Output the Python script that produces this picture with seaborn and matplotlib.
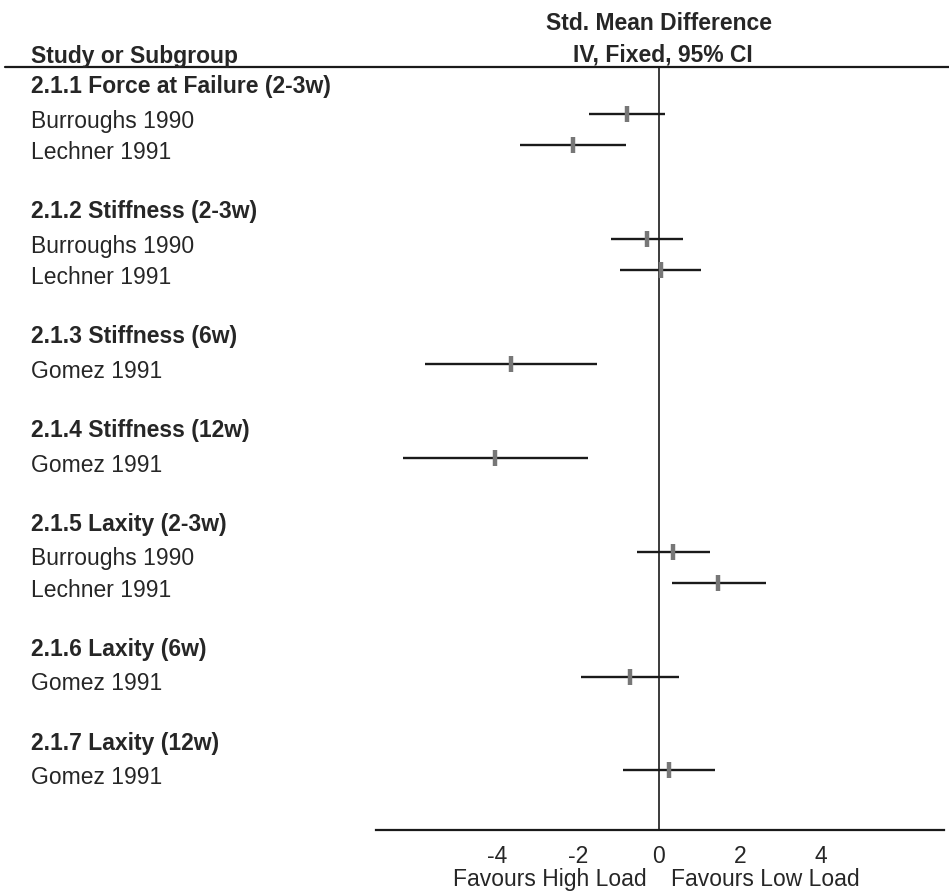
# forest plot: std. mean difference, high vs low load
import pandas as pd
import matplotlib
matplotlib.use("Agg")
import matplotlib.pyplot as plt
import matplotlib.transforms as mtransforms
from matplotlib.lines import Line2D
import seaborn as sns

# data
subgroups = ["2.1.1 Force at Failure (2-3w)", "2.1.2 Stiffness (2-3w)", "2.1.3 Stiffness (6w)",
             "2.1.4 Stiffness (12w)", "2.1.5 Laxity (2-3w)", "2.1.6 Laxity (6w)", "2.1.7 Laxity (12w)"]
subgroup_first_row = [1, 5, 9, 12, 15, 19, 22]

studies = ["Burroughs 1990", "Lechner 1991", "Burroughs 1990", "Lechner 1991", "Gomez 1991",
           "Gomez 1991", "Burroughs 1990", "Lechner 1991", "Gomez 1991", "Gomez 1991"]
study_rows = [1, 2, 5, 6, 9, 12, 15, 16, 19, 22]
smd = [-0.79, -2.12, -0.30, 0.05, -3.65, -4.05, 0.35, 1.46, -0.72, 0.25]
ci_low = [-1.73, -3.43, -1.19, -0.96, -5.78, -6.32, -0.54, 0.32, -1.93, -0.89]
ci_high = [0.15, -0.81, 0.59, 1.04, -1.52, -1.75, 1.26, 2.64, 0.49, 1.38]
x_ticks = [-4, -2, 0, 2, 4]

df = pd.DataFrame({"study": studies, "row": study_rows, "smd": smd,
                   "lo": ci_low, "hi": ci_high})

sns.set_style("white")
plt.rcParams["font.family"] = ["Liberation Sans", "DejaVu Sans"]
fs = 16.5
txt = "#262626"

fig = plt.figure(figsize=(9.49, 8.95), dpi=100)
ax = fig.add_axes([376 / 949, 1 - 831 / 895, 568 / 949, (831 - 68) / 895])

# confidence intervals and point estimates
ax.hlines(df["row"], df["lo"], df["hi"], color="#1a1a1a", lw=1.7, zorder=2)
sns.scatterplot(data=df, x="smd", y="row", marker="|", s=130, linewidth=3.2,
                color="#777777", ax=ax, zorder=3, legend=False)
ax.axvline(0, color="#1a1a1a", lw=1.2, zorder=1)

ax.set_xlim(-6.99, 7.04)
ax.set_ylim(23.91, -0.504)
ax.set_xticks(x_ticks)
ax.set_xticklabels([str(t) for t in x_ticks], fontsize=fs, color=txt)
ax.tick_params(axis="x", direction="inout", length=12, width=1.2, pad=4, color="#1a1a1a")
ax.set_yticks([])
ax.set_xlabel("")
ax.set_ylabel("")
for side in ["top", "left", "right"]:
    ax.spines[side].set_visible(False)
ax.spines["bottom"].set_linewidth(1.6)
ax.spines["bottom"].set_color("#1a1a1a")

# left column text
trans = mtransforms.blended_transform_factory(fig.transFigure, ax.transData)
x_left = 31 / 949
for name, r in zip(subgroups, subgroup_first_row):
    ax.text(x_left, r - 0.9, name, transform=trans, fontsize=fs, fontweight="bold",
            color=txt, va="center", ha="left", clip_on=False)
for name, r in zip(studies, study_rows):
    ax.text(x_left, r + 0.2, name, transform=trans, fontsize=fs, color=txt,
            va="center", ha="left", clip_on=False)

# header
trans_h = mtransforms.blended_transform_factory(ax.transData, fig.transFigure)
fig.text(x_left, 1 - 57 / 895, "Study or Subgroup", fontsize=fs, fontweight="bold",
         color=txt, va="center", ha="left")
ax.text(0, 1 - 23 / 895, "Std. Mean Difference", transform=trans_h, fontsize=fs,
        fontweight="bold", color=txt, va="center", ha="center", clip_on=False)
ax.text(0.1, 1 - 55 / 895, "IV, Fixed, 95% CI", transform=trans_h, fontsize=fs,
        fontweight="bold", color=txt, va="center", ha="center", clip_on=False)
fig.add_artist(Line2D([5 / 949, 1.0], [1 - 68 / 895, 1 - 68 / 895], color="#1a1a1a", lw=1.6))

# favours labels
ax.text(-0.3, 1 - 880 / 895, "Favours High Load", transform=trans_h, fontsize=fs,
        color=txt, va="center", ha="right", clip_on=False)
ax.text(0.3, 1 - 880 / 895, "Favours Low Load", transform=trans_h, fontsize=fs,
        color=txt, va="center", ha="left", clip_on=False)

fig.savefig("out.png", dpi=100)
